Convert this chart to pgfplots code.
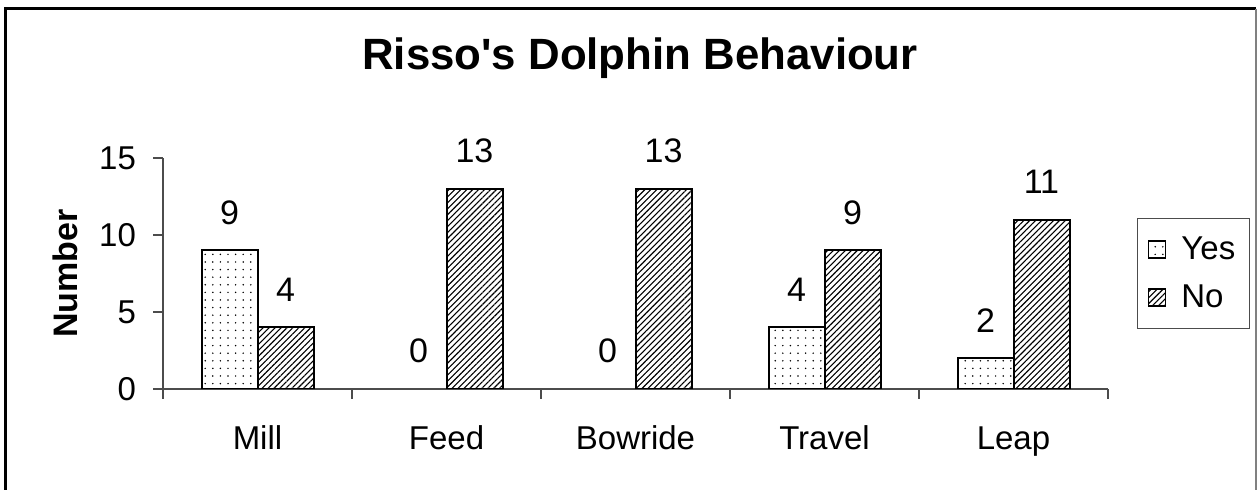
\documentclass[border=0pt]{standalone}
\usepackage{fontspec}
\setmainfont{Liberation Sans}[Ligatures=TeXOff]
\usepackage{pgfplots}
\pgfplotsset{compat=1.18}
\usetikzlibrary{patterns.meta}

\pgfplotsset{
  boxlegend/.style={legend image code/.code={%
    \draw[##1, line width=0.8pt] (0pt,-4.25pt) rectangle (8.5pt,4.25pt);
    \path (14pt,0pt);}},
}

\begin{document}
\begin{tikzpicture}
\useasboundingbox (0,0) rectangle (628.5pt,245pt);
% outer chart frame
\draw[black, line width=1.5pt] (2.5pt,-5pt) -- (2.5pt,240.7pt) -- (628pt,240.7pt);
\draw[gray, line width=0.6pt] (628pt,240.7pt) -- (628pt,-5pt);

\node[font=\bfseries\fontsize{21.9}{22}\selectfont, anchor=base] at (320pt,210pt) {Risso's Dolphin Behaviour};

\begin{axis}[
  at={(81.5pt,50.5pt)}, anchor=south west,
  scale only axis, width=472.5pt, height=115.5pt,
  xmin=-0.5, xmax=4.5, ymin=0, ymax=15,
  axis lines=left,
  axis line style={-, draw=gray!60!black, line width=0.6pt},
  ytick={0,5,10,15},
  xtick={0,...,4},
  xticklabels={Mill,Feed,Bowride,Travel,Leap},
  minor xtick={-0.5,0.5,...,4.5},
  major x tick style={draw=none},
  tick align=outside,
  major tick length=5pt, minor tick length=5pt,
  tick style={draw=gray!60!black, line width=0.6pt},
  /pgf/number format/assume math mode=true,
  yticklabel style={font=\fontsize{16.5}{16.5}\selectfont, xshift=-5pt},
  xticklabel style={font=\fontsize{16.5}{16.5}\selectfont, anchor=base, yshift=-25.5pt},
  ylabel={\textbf{Number}},
  ylabel style={at={(axis description cs:0,0.5)}, anchor=center, yshift=49pt, font=\fontsize{17}{17}\selectfont},
  ybar, bar width=28pt,
  every node near coord/.append style={font=\fontsize{17}{17}\selectfont, anchor=center, yshift=19pt},
  legend style={at={(rel axis cs:1,0.5)}, xshift=14.5pt, anchor=west,
    draw=gray!60!black, line width=0.6pt, font=\fontsize{16.5}{16.5}\selectfont,
    row sep=7pt, inner xsep=5pt, inner ysep=7pt},
  legend cell align=left,
]
% Yes: non-zero bars
\addplot[draw=black, line width=1pt, bar shift=-14pt,
  pattern={Dots[distance=3.8pt, radius=0.42pt]}, boxlegend, nodes near coords]
  coordinates {(0,9) (3,4) (4,2)};
% No
\addplot[draw=black, line width=1pt, bar shift=14pt,
  pattern={Lines[angle=45, distance=2.1pt, line width=0.55pt]}, boxlegend, nodes near coords]
  coordinates {(0,4) (1,13) (2,13) (3,9) (4,11)};
% Yes: zero counts, label only
\addplot[draw=none, fill=none, bar shift=-14pt, nodes near coords, forget plot]
  coordinates {(1,0) (2,0)};
\legend{Yes,No}
\end{axis}
\end{tikzpicture}
\end{document}
